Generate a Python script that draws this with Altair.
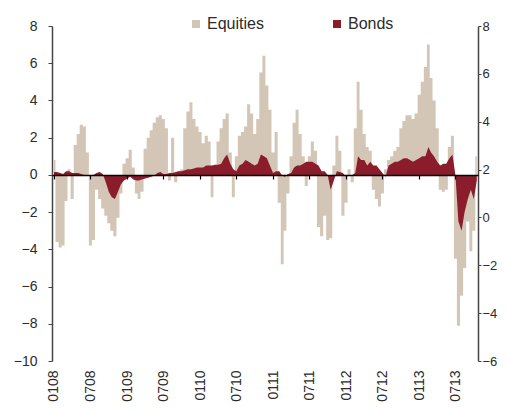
import altair as alt
import pandas as pd

# Half-monthly observations, Jan 2008 .. Oct 2013
dates = [f"{2008 + i // 24}-{(i % 24) // 2 + 1:02d}-{1 if i % 2 == 0 else 16:02d}" for i in range(140)]

equities = [
    0.8, -3.6, -3.9, -3.8, -1.4, 0.3, -1.3, 1.6, 2.2, 2.7, 2.6, 1.2,
    -3.8, -3.5, -0.8, -1.3, -1.8, -2.2, -2.6, -3.0, -3.3, -2.3, -1.0, 0.6,
    0.9, 1.35, 0.4, -1.0, -1.3, -0.9, 1.4, 2.0, 2.4, 2.8, 3.1, 3.2,
    3.0, 2.5, -0.3, 2.0, -0.4, 0.2, 0.3, 2.5, 3.4, 3.9, 3.0, 2.6,
    2.3, 1.7, 2.1, 1.8, -1.2, 0.3, 1.8, 2.5, 3.0, 3.3, 1.2, -1.2,
    1.0, 2.1, 2.3, 2.6, 3.8, 3.3, 2.2, 3.0, 5.5, 6.4, 4.8, 3.5,
    1.2, 2.3, -1.5, -4.8, -3.0, -1.0, 1.0, 2.8, 3.5, 2.2, 1.0, -0.6,
    1.0, 1.8, 1.3, -2.8, -3.3, -2.2, -3.5, -3.4, 0.5, 2.1, 1.3, -2.2,
    -1.5, 0.3, -0.4, 2.5, 5.0, 3.5, 2.2, 1.5, 1.3, -0.8, -1.3, -1.7,
    -1.0, 0.3, 0.8, 1.0, 1.3, 1.5, 2.5, 2.9, 3.2, 3.2, 3.0, 3.3,
    4.3, 5.0, 5.8, 7.0, 5.2, 4.0, 2.5, -0.8, -0.9, -0.8, 1.5, 2.1,
    -4.5, -8.1, -6.5, -5.0, -2.5, -4.1, -3.0, 1.0,
]

bonds = [
    0.15, 0.15, 0.1, 0.05, 0.2, 0.2, 0.1, 0.1, 0.1, 0.05, 0.0, 0.0,
    -0.05, 0.0, 0.1, 0.15, 0.05, -0.4, -0.9, -1.2, -1.3, -0.9, -0.5, -0.3,
    -0.2, -0.1, -0.25, -0.3, -0.3, -0.25, -0.2, -0.15, -0.1, -0.05, 0.1, 0.15,
    0.05, 0.05, 0.1, 0.1, 0.15, 0.2, 0.2, 0.25, 0.3, 0.3, 0.35, 0.4,
    0.4, 0.4, 0.5, 0.5, 0.5, 0.55, 0.55, 0.6, 0.9, 1.1, 0.6, 0.3,
    0.2, 0.5, 0.6, 0.8, 0.7, 0.6, 0.5, 0.6, 1.1, 1.0, 0.9, 0.5,
    0.1, 0.2, 0.2, -0.05, -0.1, 0.05, 0.1, 0.4, 0.5, 0.5, 0.6, 0.7,
    0.7, 0.7, 0.6, 0.5, 0.2, 0.2, 0.0, -0.8, -0.3, 0.2, 0.15, 0.1,
    -0.1, -0.05, 0.0, 0.1, 1.0, 0.8, 0.8, 0.5, 0.7, 0.5, 0.5, 0.3,
    0.1, -0.1, 0.5, 0.6, 0.7, 0.7, 0.8, 0.9, 0.9, 0.8, 0.7, 0.8,
    0.9, 1.0, 1.0, 1.5, 1.2, 1.0, 0.7, 0.5, 0.6, 0.6, 0.9, 1.1,
    0.0, -2.5, -3.0, -2.0, -1.3, -0.8, -1.3, -0.3,
]

series_names = ["Equities", "Bonds"]
series_colors = ["#d4c6b6", "#8a1c2c"]
left_ticks = [-10, -8, -6, -4, -2, 0, 2, 4, 6, 8]
right_ticks = [-6, -4, -2, 0, 2, 4, 6, 8]

FONT = "Liberation Sans"
TXT = "#2b2b2b"

df = pd.DataFrame({"date": dates, "Equities": equities, "Bonds": bonds})

xscale = alt.Scale(domain=[alt.DateTime(year=2007, month=12, date=22),
                           alt.DateTime(year=2013, month=10, date=22)])
yscale = alt.Scale(domain=[-10, 8], nice=False)
cscale = alt.Scale(domain=series_names, range=series_colors)
tick_interval = {"interval": "month", "step": 6}

legend = alt.Legend(orient="none", legendX=136, legendY=-10, direction="horizontal",
                    title=None, symbolType="square", symbolSize=64, symbolStrokeWidth=0,
                    labelFont=FONT, labelFontSize=16, labelColor=TXT, labelOffset=3,
                    columnPadding=65, padding=0)

left_axis = alt.Axis(values=left_ticks, grid=False, title=None, domainColor="#444",
                     domainWidth=1.5, tickColor="#444", tickSize=4, labelPadding=11,
                     labelFont=FONT, labelFontSize=14, labelColor=TXT, zindex=1)

eq = alt.Chart(df).transform_fold(["Equities"], as_=["series", "value"]).mark_area(
    interpolate="step").encode(
    x=alt.X("date:T", scale=xscale,
            axis=alt.Axis(format="%m%y", labelAngle=270, domain=False, ticks=False, tickSize=0,
                          grid=False, title=None, tickCount=tick_interval, labelPadding=9,
                          labelFont=FONT, labelFontSize=14, labelColor=TXT, labelFlush=False)),
    y=alt.Y("value:Q", scale=yscale, axis=left_axis),
    color=alt.Color("series:N", scale=cscale, legend=legend),
)

bd = alt.Chart(df).transform_fold(["Bonds"], as_=["series", "value"]).mark_area(
    interpolate="linear").encode(
    x=alt.X("date:T", scale=xscale,
            axis=alt.Axis(orient="bottom", offset=-186, labels=False, domain=True,
                          domainColor="#000", domainWidth=1.5, ticks=True, tickColor="#000",
                          tickSize=4, tickWidth=1.2, grid=False, title=None,
                          tickCount=tick_interval, zindex=2)),
    y=alt.Y("value:Q", scale=yscale, axis=left_axis),
    color=alt.Color("series:N", scale=cscale, legend=legend),
)

inner = alt.layer(eq, bd).resolve_axis(x="independent")

right = alt.Chart(pd.DataFrame({"r": right_ticks})).mark_point(opacity=0).encode(
    y=alt.Y("r:Q", scale=alt.Scale(domain=[-6, 8], nice=False),
            axis=alt.Axis(orient="right", values=right_ticks, grid=False, title=None,
                          domainColor="#444", domainWidth=1.5, tickColor="#444", tickSize=3,
                          labelPadding=1, labelFont=FONT, labelFontSize=13, labelColor=TXT,
                          zindex=1)),
)

chart = alt.layer(inner, right).resolve_scale(y="independent").properties(
    width=426, height=335,
    autosize=alt.AutoSizeParams(type="none"),
    padding={"left": 44, "top": 18, "right": 21, "bottom": 41},
).configure_view(stroke=None)

chart.save("out.html", embed_options={"renderer": "svg", "actions": False})
